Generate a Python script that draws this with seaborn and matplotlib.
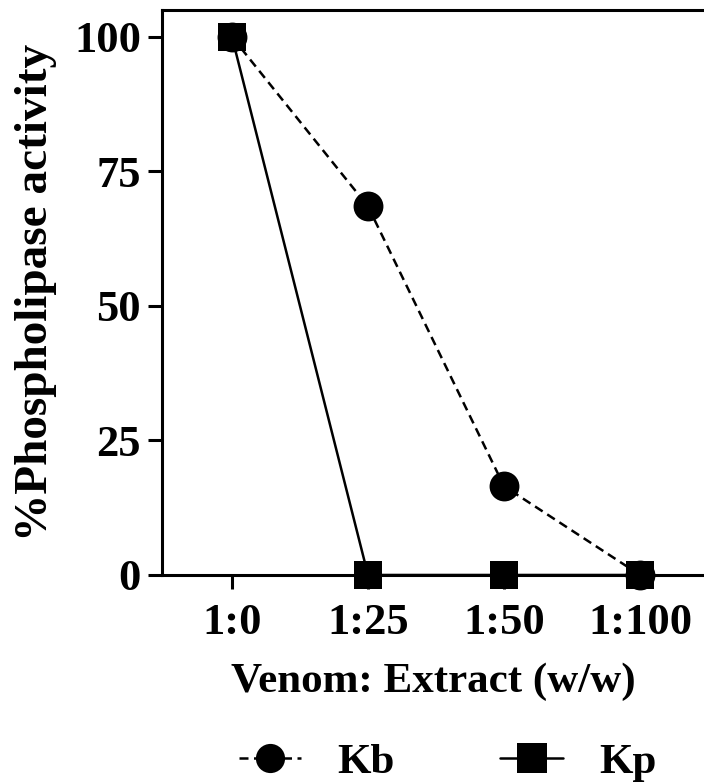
import matplotlib
matplotlib.use("Agg")
import matplotlib.pyplot as plt
import seaborn as sns
import pandas as pd

categories = ["1:0", "1:25", "1:50", "1:100"]
kb_values = [100, 68.5, 16.5, 0]
kp_values = [100, 0, 0, 0]
series_names = ["Kb", "Kp"]
y_ticks = [0, 25, 50, 75, 100]

df = pd.DataFrame({
    "ratio": categories * 2,
    "activity": kb_values + kp_values,
    "series": [series_names[0]] * 4 + [series_names[1]] * 4,
})

sns.set_style("ticks")
plt.rcParams["font.family"] = ["Liberation Serif", "DejaVu Serif"]
plt.rcParams["font.weight"] = "bold"
plt.rcParams["text.color"] = "black"
plt.rcParams["axes.labelcolor"] = "black"

fig = plt.figure(figsize=(7.04, 7.84), dpi=100)
ax = fig.add_axes([0.230, 0.2666, 0.77, 0.7206])

sns.lineplot(data=df, x="ratio", y="activity", hue="series", style="series",
             hue_order=series_names, style_order=series_names,
             palette={"Kb": "black", "Kp": "black"},
             markers={"Kb": "o", "Kp": "s"},
             dashes={"Kb": (3.6, 2.2), "Kp": ""},
             markersize=20, linewidth=1.8, markeredgewidth=0,
             ax=ax, sort=False)

for ln in ax.lines:
    ln.set_clip_on(False)
    if ln.get_marker() == "o":
        ln.set_markersize(21.5)

ax.set_xlim(-0.515, 3.47)
ax.set_ylim(0, 105)
ax.set_yticks(y_ticks)
ax.set_yticklabels([str(v) for v in y_ticks])

for s in ["left", "bottom", "top"]:
    ax.spines[s].set_linewidth(2.2)
    ax.spines[s].set_color("black")
ax.spines["right"].set_visible(False)

ax.tick_params(axis="both", direction="out", length=10, width=2.2, colors="black",
               labelsize=32)
ax.tick_params(axis="x", pad=10)
ax.tick_params(axis="y", pad=5)
for lbl in ax.get_xticklabels() + ax.get_yticklabels():
    lbl.set_fontweight("bold")

ax.set_xlabel("Venom: Extract (w/w)", fontsize=31, fontweight="bold", labelpad=14)
ax.set_ylabel("%Phospholipase activity", fontsize=34, fontweight="bold", labelpad=12)

handles, labels = ax.get_legend_handles_labels()
ax.get_legend().remove()
leg = fig.legend(handles, labels, loc="center", bbox_to_anchor=(0.636, 0.027),
                 ncol=2, frameon=False, handlelength=1.45,
                 columnspacing=2.45, handletextpad=0.85,
                 prop={"weight": "bold", "size": 31})
for h in leg.legend_handles:
    h.set_markersize(21)
    h.set_linewidth(1.8)
    h.set_color("black")

fig.savefig("out.png", dpi=100)
